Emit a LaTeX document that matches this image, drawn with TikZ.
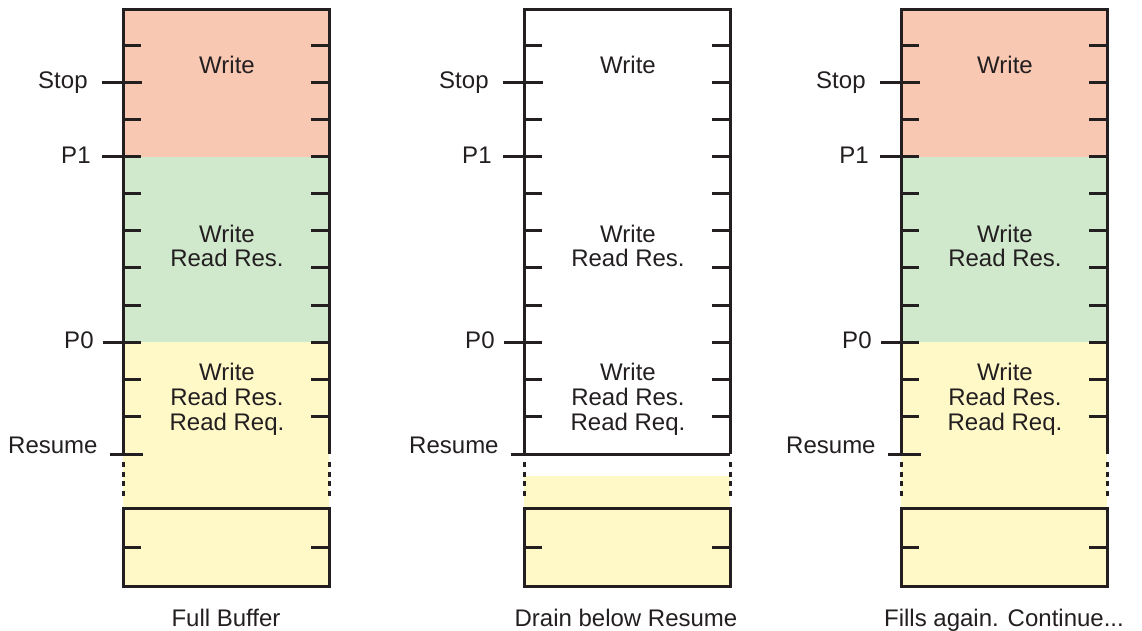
\documentclass[tikz,border=0pt]{standalone}
\usepackage{fontspec}
\setmainfont{Liberation Sans}
\usetikzlibrary{positioning}
\definecolor{ink}{RGB}{35,31,32}
\definecolor{writered}{RGB}{249,200,178}
\definecolor{resgreen}{RGB}{208,232,204}
\definecolor{reqyellow}{RGB}{255,249,200}

\begin{document}
\begin{tikzpicture}[x=0.5pt, y=-0.5pt,
      frame/.style={draw=ink, line width=1.5pt},
      tickline/.style={draw=ink, line width=1.5pt},
      gapline/.style={draw=ink, line width=1.5pt, dash pattern=on 2.5pt off 2.3pt},
      level/.style={font=\fontsize{12}{14}\selectfont, text=ink, inner sep=0pt},
      region/.style={font=\fontsize{12}{12.4}\selectfont, text=ink, align=center, inner sep=0pt},
      caption/.style={font=\fontsize{12}{14}\selectfont, text=ink, inner sep=0pt, anchor=base}]

\useasboundingbox (0,0) rectangle (1142,631);

% coloured parts of the buffers
\fill[writered] (123,10) rectangle (329,157);
\fill[resgreen] (123,157) rectangle (329,342);
\fill[reqyellow] (123,342) rectangle (329,586);
\fill[reqyellow] (524,476) rectangle (730,586);
\fill[writered] (901,10) rectangle (1107,157);
\fill[resgreen] (901,157) rectangle (1107,342);
\fill[reqyellow] (901,342) rectangle (1107,586);

% frames, ticks, levels and texts
\foreach \bx/\id in {123/a, 524/b, 901/c} {
  \begin{scope}[shift={(\bx,0)}]
    \draw[frame] (0,454) -- (0,10) -- (206,10) -- (206,454);
    \draw[gapline] (0,462) -- (0,500) (206,462) -- (206,500);
    \draw[frame] (0,508) rectangle (206,586);
    \foreach \y in {46,83,...,416}
      \draw[tickline] (0,\y) -- (18,\y) (188,\y) -- (206,\y);
    \draw[tickline] (0,547) -- (18,547) (188,547) -- (206,547);

    \node[level, anchor=base east] (stop\id) at (-35,89) {Stop};
    \node[level, anchor=base east] (pone\id) at (-32,164) {P1};
    \node[level, anchor=base east] (pzero\id) at (-29,348) {P0};
    \node[level, anchor=base east] (resume\id) at (-25,453) {Resume};
    \draw[tickline] (-21,83) -- (19,83);
    \draw[tickline] (-21,157) -- (14,157);
    \draw[tickline] (-20,342) -- (14,342);
    \draw[tickline] (-13,454) -- (20,454);

    \node[region] (top\id) at (104,65) {Write};
    \node[region] (mid\id) at (104,246) {Write\\Read Res.};
    \node[region] (low\id) at (104,399) {Write\\Read Res.\\Read Req.};
  \end{scope}
}
\draw[frame] (524,454) -- (730,454);

% captions
\node[caption] (capa) at (226,626) {Full Buffer};
\node[caption] (capb) at (626,626) {Drain below Resume};
\node[caption] (capc) at (1004,626) {Fills again. Continue...};

\end{tikzpicture}
\end{document}
